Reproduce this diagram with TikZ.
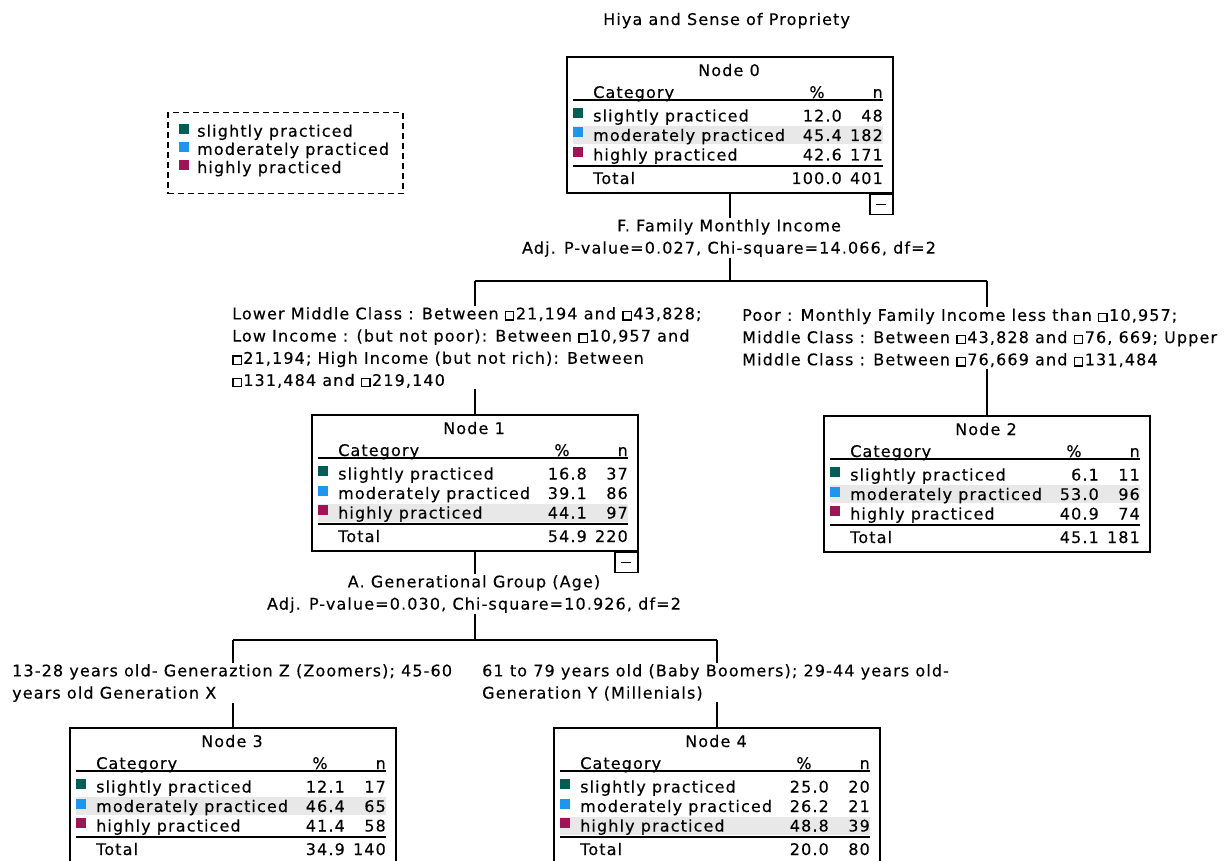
\documentclass[tikz,border=0pt]{standalone}
\usepackage{fontspec}
\setmainfont{DejaVu Sans}[LetterSpace=7,FakeBold=0.3]
\usetikzlibrary{positioning,calc}
\definecolor{cat1}{RGB}{0,94,86}
\definecolor{cat2}{RGB}{30,150,235}
\definecolor{cat3}{RGB}{160,20,85}
\definecolor{rowgray}{RGB}{232,232,232}
\newcommand{\tabfont}{\fontsize{16}{22.2}\selectfont}
\newcommand{\pesobox}{{\setlength{\fboxsep}{0pt}\setlength{\fboxrule}{1.3pt}\fbox{\rule{0pt}{7pt}\kern7pt}}\kern1.5pt}
\newcommand{\catlabel}[1]{\ifcase#1\or slightly practiced\or moderately practiced\or highly practiced\fi}
% one node table: name, top left, title, shaded row, rows pct/n, total pct, total n
\newcommand{\cattable}[7]{%
  \node[nodebox, anchor=north west] (#1) at (#2) {};
  \begin{scope}[shift={(#1.north west)}]
    \fill[rowgray] (7,{31+19.5*#4}) rectangle (317,{49+19.5*#4});
    \node[anchor=base] (#1-title) at (163,20) {#3};
    \node[anchor=base west] (#1-cat) at (27,42) {Category};
    \node[anchor=base] (#1-pcthead) at (251,42) {\%};
    \node[anchor=base east] (#1-nhead) at (317,42) {n};
    \draw[rule] (7,44) -- (317,44);
    \foreach \pc/\nn [count=\i] in {#5} {
      \fill[cat\i] (7,{32.5+19.5*\i}) rectangle (17,{42.5+19.5*\i});
      \node[anchor=base west] (#1-lab\i) at (27,{46+19.5*\i}) {\catlabel{\i}};
      \node[anchor=base east] (#1-pct\i) at (276,{46+19.5*\i}) {\pc};
      \node[anchor=base east] (#1-n\i) at (317,{46+19.5*\i}) {\nn};
    }
    \draw[rule] (7,110) -- (317,110);
    \node[anchor=base west] (#1-total) at (27,128) {Total};
    \node[anchor=base east] (#1-pcttot) at (276,128) {#6};
    \node[anchor=base east] (#1-ntot) at (317,128) {#7};
  \end{scope}}
% collapse mark under a split node
\newcommand{\foldmark}[1]{%
  \node[foldbox, anchor=north east] (#1-fold) at (#1.south east) {};
  \draw[rule] ($(#1-fold.center)+(-5,0)$) -- ($(#1-fold.center)+(5,0)$);}

\begin{document}
\begin{tikzpicture}[
    x=1pt, y=-1pt,
    every node/.style={font=\tabfont, inner sep=0pt},
    nodebox/.style={draw, line width=1.6pt, minimum width=326pt, minimum height=136pt},
    foldbox/.style={draw, line width=1.5pt, minimum width=23pt, minimum height=20pt},
    rule/.style={line width=1.4pt},
    treeline/.style={line width=1.7pt},
    splitlabel/.style={fill=white, inner sep=1.5pt, align=left},
    varlabel/.style={fill=white, inner sep=1.5pt, align=center},
    legendbox/.style={draw, line width=1.5pt, dash pattern=on 6pt off 4pt, minimum width=235pt, minimum height=81pt}
]
\path[use as bounding box, clip] (0,0) rectangle (1227,861);

% tree nodes
\cattable{n0}{566,56}{Node 0}{2}{12.0/48,45.4/182,42.6/171}{100.0}{401}
\cattable{n1}{311,414}{Node 1}{3}{16.8/37,39.1/86,44.1/97}{54.9}{220}
\cattable{n2}{823,415}{Node 2}{2}{6.1/11,53.0/96,40.9/74}{45.1}{181}
\cattable{n3}{69,727}{Node 3}{2}{12.1/17,46.4/65,41.4/58}{34.9}{140}
\cattable{n4}{553,727}{Node 4}{3}{25.0/20,26.2/21,48.8/39}{20.0}{80}
\foldmark{n0}
\foldmark{n1}

% connectors
\coordinate (bar0) at (729,281);
\coordinate (bar1) at (474,640);
\draw[treeline] (n0.south) -- (n0.south |- bar0);
\draw[treeline] (n1.north |- bar0) -- (n2.north |- bar0);
\draw[treeline] (n1.north |- bar0) -- (n1.north);
\draw[treeline] (n2.north |- bar0) -- (n2.north);
\draw[treeline] (n1.south) -- (n1.south |- bar1);
\draw[treeline] (n3.north |- bar1) -- (n4.north |- bar1);
\draw[treeline] (n3.north |- bar1) -- (n3.north);
\draw[treeline] (n4.north |- bar1) -- (n4.north);

% split labels
\node[varlabel, anchor=north] (split0) at (729,217.5) {F. Family Monthly Income\\Adj. P-value=0.027, Chi-square=14.066, df=2};
\node[splitlabel, anchor=north west] (cut1) at (230.5,305.5) {Lower Middle Class : Between \pesobox21,194 and \pesobox43,828;\\Low Income : (but not poor): Between \pesobox10,957 and\\\pesobox21,194; High Income (but not rich): Between\\\pesobox131,484 and \pesobox219,140};
\node[splitlabel, anchor=north west] (cut2) at (740.5,307) {Poor : Monthly Family Income less than \pesobox10,957;\\Middle Class : Between \pesobox43,828 and \pesobox76, 669; Upper\\Middle Class : Between \pesobox76,669 and \pesobox131,484};
\node[varlabel, anchor=north] (split1) at (474,573.5) {A. Generational Group (Age)\\Adj. P-value=0.030, Chi-square=10.926, df=2};
\node[splitlabel, anchor=north west] (cut3) at (10.5,662.5) {13-28 years old- Generaztion Z (Zoomers); 45-60\\years old Generation X};
\node[splitlabel, anchor=north west] (cut4) at (480.5,662.5) {61 to 79 years old (Baby Boomers); 29-44 years old-\\Generation Y (Millenials)};

% legend
\node[legendbox, anchor=north west] (legend) at (167,112) {};
\foreach \i in {1,2,3} {
  \fill[cat\i] (179,{105.5+18.2*\i}) rectangle (189,{115.5+18.2*\i});
  \node[anchor=base west] (legend-\i) at (197,{118.5+18.2*\i}) {\catlabel{\i}};
}

% title
\node[anchor=base west] (title) at (603,25) {Hiya and Sense of Propriety};
\end{tikzpicture}
\end{document}
